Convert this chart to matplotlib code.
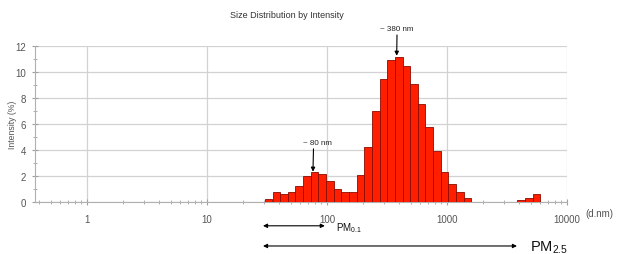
import numpy as np
import matplotlib
matplotlib.use("Agg")
import matplotlib.pyplot as plt

plt.rcParams['font.family'] = ['Liberation Sans', 'DejaVu Sans']
plt.rcParams['mathtext.fontset'] = 'custom'
plt.rcParams['mathtext.rm'] = 'Liberation Sans'
plt.rcParams['mathtext.it'] = 'Liberation Sans'
plt.rcParams['mathtext.bf'] = 'Liberation Sans:bold'

# Malvern size classes (nm) and intensity (%)
sizes = [32.67, 37.84, 43.82, 50.75, 58.77, 68.06, 78.82, 91.28, 105.7, 122.4,
         141.8, 164.2, 190.1, 220.2, 255.0, 295.3, 342.0, 396.1, 458.7, 531.2,
         615.1, 712.4, 825.0, 955.4, 1106, 1281, 1484,
         4145, 4801, 5560]
intensity = [0.2, 0.72, 0.6, 0.72, 1.24, 2.0, 2.3, 2.16, 1.6, 0.98,
             0.72, 0.77, 2.06, 4.25, 7.0, 9.5, 10.95, 11.2, 10.45, 9.1,
             7.55, 5.8, 3.9, 2.3, 1.37, 0.77, 0.26,
             0.1, 0.28, 0.6]
xticks = [1, 10, 100, 1000, 10000]
xticklabels = ["1", "10", "100", "1000", "10000"]
yticks = [0, 2, 4, 6, 8, 10, 12]

fig = plt.figure(figsize=(6.21, 2.55), dpi=100)
ax = fig.add_axes([0.0564, 0.205, 0.913 - 0.0564, 0.814 - 0.205])

step = 0.06368
sizes_a = np.array(sizes, dtype=float)
lefts = sizes_a * 10 ** (-step / 2)
widths = sizes_a * 10 ** (step / 2) - lefts
ax.bar(lefts, intensity, width=widths, align='edge', color='#ff1e00',
       edgecolor='#8c0a00', linewidth=0.6, zorder=3)

ax.set_xscale('log')
ax.set_xlim(0.369, 10000)
ax.set_ylim(0, 12)
ax.set_xticks(xticks)
ax.set_xticklabels(xticklabels)
ax.set_yticks(yticks)
ax.set_yticks([1, 3, 5, 7, 9, 11], minor=True)
ax.grid(True, which='major', color='#d2d2d2', linewidth=0.9, zorder=0)
for s in ['top', 'right']:
    ax.spines[s].set_visible(False)
for s in ['left', 'bottom']:
    ax.spines[s].set_color('#b0b0b0')
    ax.spines[s].set_linewidth(0.8)
ax.tick_params(which='major', direction='inout', length=5, color='#a0a0a0',
               labelsize=7, labelcolor='#555555', pad=4)
ax.tick_params(which='minor', direction='inout', length=3, color='#a0a0a0')
ax.tick_params(axis='x', which='major', pad=6)

ax.set_ylabel('Intensity (%)', fontsize=6.3, color='#555555')
ax.yaxis.set_label_coords(-0.034, 0.5)
fig.text(0.462, 0.94, 'Size Distribution by Intensity', fontsize=6.5,
         color='#333333', ha='center', va='center')
fig.text(0.942, 0.162, '(d.nm)', fontsize=7, color='#555555',
         ha='left', va='center')

# Peak annotations
ax.annotate('~ 380 nm', xy=(381, 11.28), xytext=(384, 13.1),
            fontsize=5.8, ha='center', va='bottom', color='#222222',
            arrowprops=dict(arrowstyle='-|>', color='black', lw=0.8,
                            mutation_scale=6, shrinkA=0, shrinkB=0),
            annotation_clip=False, zorder=5)
ax.annotate('~ 80 nm', xy=(76.4, 2.32), xytext=(84, 4.3),
            fontsize=5.8, ha='center', va='bottom', color='#222222',
            arrowprops=dict(arrowstyle='-|>', color='black', lw=0.8,
                            mutation_scale=6, shrinkA=0, shrinkB=0,
                            relpos=(0.35, 0)),
            annotation_clip=False, zorder=5)

# PM range arrows below the axis
tr = ax.get_xaxis_transform()
ax.annotate('', xy=(29.3, -0.155), xytext=(96, -0.155), xycoords=tr,
            textcoords=tr,
            arrowprops=dict(arrowstyle='<|-|>', color='black', lw=0.8,
                            mutation_scale=6, shrinkA=0, shrinkB=0),
            annotation_clip=False)
ax.text(120, -0.165, r'PM$_{\mathregular{0.1}}$', transform=tr, fontsize=7,
        ha='left', va='center', color='#111111')
ax.annotate('', xy=(29.3, -0.285), xytext=(3830, -0.285), xycoords=tr,
            textcoords=tr,
            arrowprops=dict(arrowstyle='<|-|>', color='black', lw=0.8,
                            mutation_scale=6, shrinkA=0, shrinkB=0),
            annotation_clip=False)
ax.text(4900, -0.29, r'PM$_{\mathregular{2.5}}$', transform=tr, fontsize=10.5,
        ha='left', va='center', color='#111111')

fig.savefig('out.png', dpi=100)
